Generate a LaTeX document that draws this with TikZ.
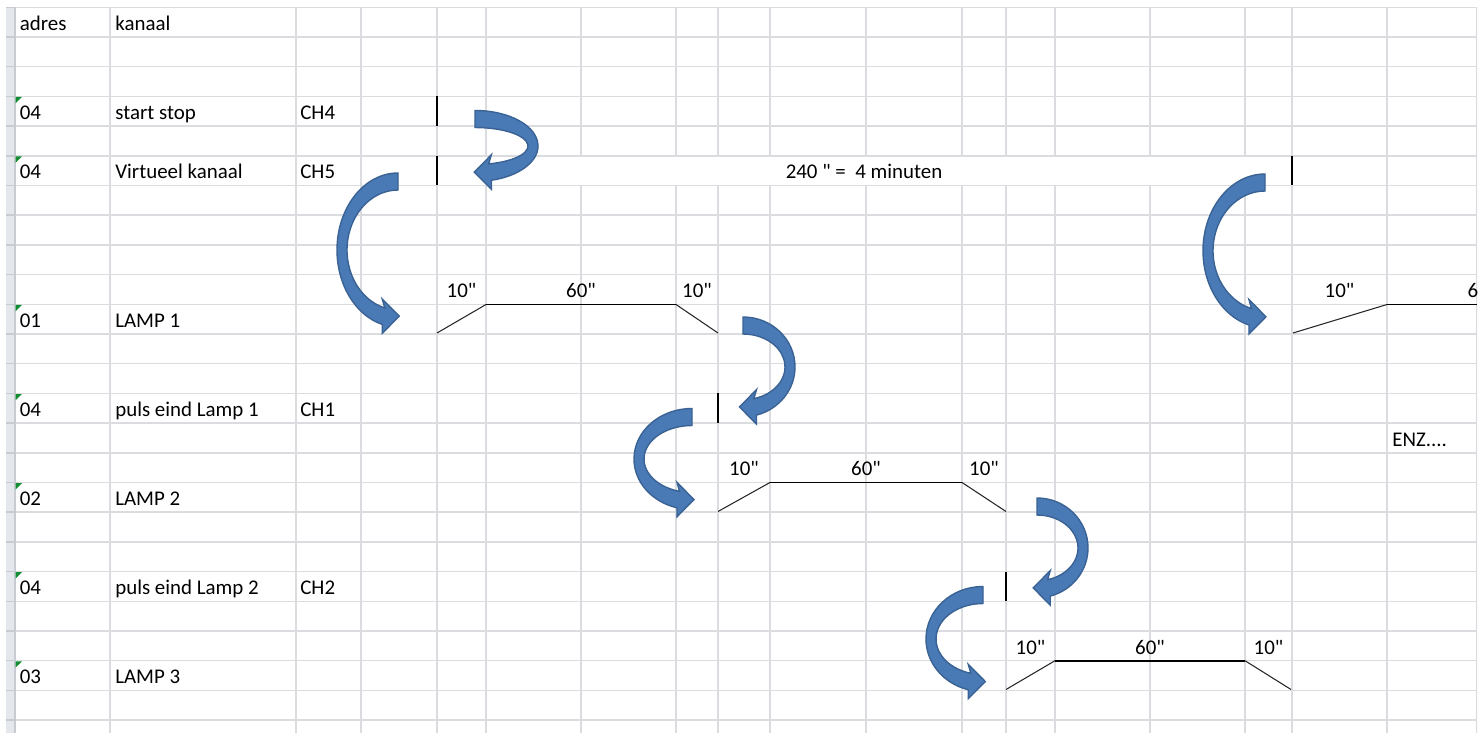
\documentclass[tikz,border=0pt]{standalone}
\usepackage{fontspec}
\newfontfamily\sheetfont{Carlito}
\definecolor{gridgray}{RGB}{218,220,223}
\definecolor{stripgray}{RGB}{228,231,235}
\definecolor{stripline}{RGB}{200,204,210}
\definecolor{arrowblue}{RGB}{74,122,181}
\definecolor{arrowedge}{RGB}{58,98,148}
\definecolor{flaggreen}{RGB}{20,140,50}

% curved block arrow: tail centre x, y, reach, half height, side (1 left, -1 right)
\newcommand{\bendarrow}[5]{%
  \begin{scope}[shift={(#1,#2)},xscale=#5]
    \filldraw[blockarrow] (0,-8.5) arc[start angle=270,end angle=105,x radius=#3,y radius=#4+8.5]
      -- ++(0,9) -- ++(17,-17.2) -- ++(-17,-17.2) -- ++(2.6,9)
      arc[start angle=105,end angle=270,x radius=#3-10,y radius=#4-8.5] -- cycle;
  \end{scope}}

\begin{document}
\begin{tikzpicture}[x=0.02cm,y=-0.02cm,
    font=\sheetfont\fontsize{11.9}{14}\selectfont,
    gridline/.style={draw=gridgray,line width=0.9pt},
    cell/.style={anchor=base west,inner sep=0pt},
    tick/.style={anchor=base,inner sep=0pt},
    bar/.style={line width=1.4pt},
    pulse/.style={line width=0.6pt,draw=black!85},
    flat/.style={line width=0.95pt},
    blockarrow/.style={fill=arrowblue,draw=arrowedge,line width=0.8pt}]

    \useasboundingbox (0,0) rectangle (1481,733);
    \fill[white] (0,0) rectangle (1481,733);
    \clip (0,0) rectangle (1477,733);

    % sheet grid
    \fill[stripgray] (6,7.3) rectangle (15,733);
    \foreach \k in {0,...,24}{
        \draw[gridline] (15,{7.3+\k*29.7}) -- (1477,{7.3+\k*29.7});
        \draw[stripline,line width=0.9pt] (6,{7.3+\k*29.7}) -- (15,{7.3+\k*29.7});
    }
    \draw[stripline,line width=0.9pt] (15,7.3) -- (15,733);
    \foreach \c in {110,296,361,437,1292,1387,1477}
        \draw[gridline] (\c,7.3) -- (\c,733);
    \foreach \c in {486,581,676,718,770,866,962,1006,1055,1150,1245}{
        \draw[gridline] (\c,7.3) -- (\c,155.8);
        \draw[gridline] (\c,185.5) -- (\c,733);
    }

    % sheet text
    \node[cell] (adres) at (19.5,30.5) {adres};
    \node[cell] (kanaal) at (115,30.5) {kanaal};
    \foreach \r/\a/\k/\c in {3/04/start stop/CH4,5/04/Virtueel kanaal/CH5,10/01/LAMP 1/,
        13/04/puls eind Lamp 1/CH1,16/02/LAMP 2/,19/04/puls eind Lamp 2/CH2,22/03/LAMP 3/}{
        \fill[flaggreen] (15.5,{7.3+\r*29.7+0.6}) -- (22,{7.3+\r*29.7+0.6}) -- (15.5,{7.3+\r*29.7+7}) -- cycle;
        \node[cell] (adr\r) at (19.5,{7.3+(\r+1)*29.7-6.5}) {\a};
        \node[cell] (kan\r) at (115,{7.3+(\r+1)*29.7-6.5}) {\k};
        \node[cell] (ch\r) at (300,{7.3+(\r+1)*29.7-6.5}) {\c};
    }
    \node[tick] (total) at (864,179) {240 " =\ \ 4 minuten};
    \node[cell] (enz) at (1392,446.3) {ENZ....};

    % ramp labels
    \node[tick] (upa) at (461.5,297.8) {10"};
    \node[tick] (ona) at (581,297.8) {60"};
    \node[tick] (downa) at (697,297.8) {10"};
    \node[tick] (upb) at (744,475.9) {10"};
    \node[tick] (onb) at (866,475.9) {60"};
    \node[tick] (downb) at (984,475.9) {10"};
    \node[tick] (upc) at (1030.5,654.1) {10"};
    \node[tick] (onc) at (1150,654.1) {60"};
    \node[tick] (downc) at (1268.5,654.1) {10"};
    \node[tick] (upd) at (1339.5,297.8) {10"};
    \node[tick] (ond) at (1482.5,297.8) {60"};

    % pulses
    \draw[bar] (437,96.4) -- (437,126.1);
    \draw[bar] (437,155.8) -- (437,185.5);
    \draw[bar] (1292,155.8) -- (1292,185.5);
    \draw[bar] (718,393.4) -- (718,423.1);
    \draw[bar] (1006,571.6) -- (1006,601.3);

    % lamp ramps
    \draw[pulse] (437,333) -- (486,304.5);
    \draw[flat] (486,304.5) -- (676,304.5);
    \draw[pulse] (676,304.5) -- (718,333);
    \draw[pulse] (718,511.5) -- (770,482.5);
    \draw[flat] (770,482.5) -- (962,482.5);
    \draw[pulse] (962,482.5) -- (1006,511.5);
    \draw[pulse] (1006,689.5) -- (1055,660.7);
    \draw[flat] (1055,660.7) -- (1245,660.7);
    \draw[pulse] (1245,660.7) -- (1291,689.5);
    \draw[pulse] (1293,333) -- (1387,304.5);
    \draw[flat] (1387,304.5) -- (1477,304.5);

    % arrows
    \bendarrow{475}{119}{63}{27}{-1}
    \bendarrow{398}{181.5}{61}{68.5}{1}
    \bendarrow{743}{325.5}{52}{41.4}{-1}
    \bendarrow{692}{417}{58}{42}{1}
    \bendarrow{1037}{506.5}{51}{41.4}{-1}
    \bendarrow{983}{595}{57}{44}{1}
    \bendarrow{1265}{182.5}{62}{68.3}{1}
\end{tikzpicture}
\end{document}
